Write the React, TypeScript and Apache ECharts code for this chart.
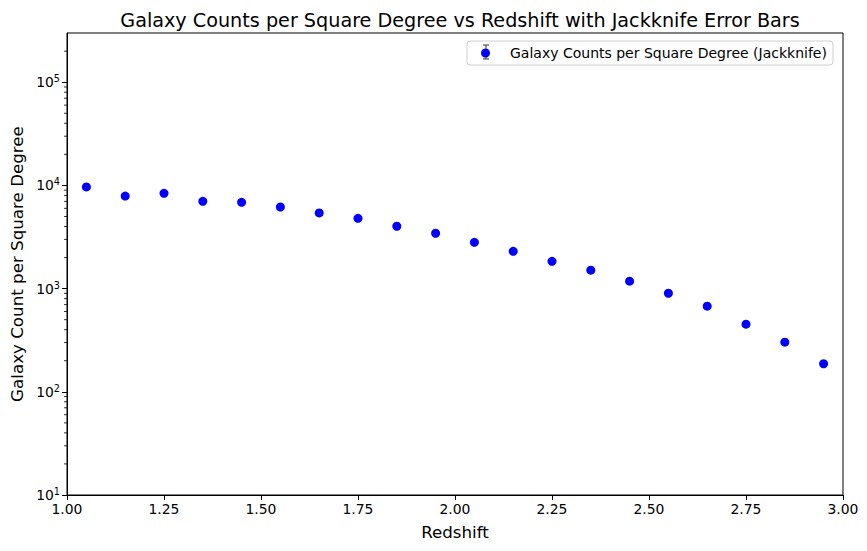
import * as echarts from "echarts";
import { useEffect, useRef } from "react";

// redshift bin centres and galaxy counts per square degree
const redshift = [1.05, 1.15, 1.25, 1.35, 1.45, 1.55, 1.65, 1.75, 1.85, 1.95, 2.05, 2.15, 2.25, 2.35, 2.45, 2.55, 2.65, 2.75, 2.85, 2.95];
const counts = [9660, 7890, 8380, 7020, 6860, 6180, 5410, 4800, 4020, 3440, 2810, 2300, 1840, 1510, 1180, 902, 676, 452, 303, 187];
const xTicks = [1.0, 1.25, 1.5, 1.75, 2.0, 2.25, 2.5, 2.75, 3.0];
const yMin = 10;
const yMax = 3e5;

// matplotlib-like minor ticks on the log axis (2..9 x 10^k)
const minorValues: number[] = [];
for (let d = 10; d < yMax; d *= 10) {
  for (let m = 2; m <= 9; m++) {
    const v = m * d;
    if (v < yMax) minorValues.push(v);
  }
}

const FONT = "DejaVu Sans";

const ScatterChart = ({ height, width }: { height: string; width: string }) => {
  const chartRef = useRef(null);

  useEffect(() => {
    if (chartRef.current) {
      const myChart = echarts.init(chartRef.current, null, { renderer: "svg" });

      const option = {
        animation: false,
        textStyle: { fontFamily: FONT },
        title: {
          text: "Galaxy Counts per Square Degree vs Redshift with Jackknife Error Bars",
          left: 455,
          top: 6,
          textAlign: "center",
          textStyle: { fontFamily: FONT, fontSize: 19.2, fontWeight: "normal", color: "#000" },
        },
        legend: {
          left: 467,
          top: 41,
          data: [{ name: "Galaxy Counts per Square Degree (Jackknife)", icon: "circle" }],
          itemWidth: 9,
          itemHeight: 9,
          padding: [5, 6, 5, 14],
          borderColor: "#d0d0d0",
          borderWidth: 1,
          borderRadius: 3,
          backgroundColor: "transparent",
          textStyle: { fontFamily: FONT, fontSize: 14, color: "#000", padding: [0, 0, 0, 15], lineHeight: 14 },
        },
        grid: {
          left: 67,
          right: 24,
          top: 33,
          bottom: 56,
          show: true,
          borderColor: "#000",
          borderWidth: 1,
          backgroundColor: "transparent",
        },
        xAxis: {
          type: "value",
          min: 1,
          max: 3,
          interval: 0.25,
          name: "Redshift",
          nameLocation: "middle",
          nameGap: 28,
          nameTextStyle: { fontFamily: FONT, fontSize: 16.7, color: "#000" },
          axisLine: { lineStyle: { color: "#000", width: 1 } },
          axisTick: { show: true, length: 5, lineStyle: { color: "#000" } },
          splitLine: { show: false },
          axisLabel: {
            fontFamily: FONT,
            fontSize: 13.9,
            color: "#000",
            margin: 7,
            formatter: (v: number) => (xTicks.some((t) => Math.abs(t - v) < 1e-9) ? v.toFixed(2) : ""),
          },
        },
        yAxis: {
          type: "log",
          logBase: 10,
          min: yMin,
          max: yMax,
          name: "Galaxy Count per Square Degree",
          nameLocation: "middle",
          nameGap: 42,
          nameTextStyle: { fontFamily: FONT, fontSize: 16.7, color: "#000" },
          axisLine: { show: true, lineStyle: { color: "#000", width: 1 } },
          axisTick: { show: true, length: 5, lineStyle: { color: "#000" } },
          splitLine: { show: false },
          axisLabel: {
            showMaxLabel: false,
            margin: 7,
            color: "#000",
            formatter: (v: number) => {
              const e = Math.round(Math.log10(v));
              if (Math.abs(Math.pow(10, e) - v) > 1e-6 * v) return "";
              return `{b|10}{s|${e}}`;
            },
            rich: {
              b: { fontFamily: FONT, fontSize: 13.9, color: "#000" },
              s: { fontFamily: FONT, fontSize: 9.7, color: "#000", verticalAlign: "top", padding: [0, 0, 7, 0] },
            },
          },
        },
        graphic: [
          // errorbar glyph behind the legend marker
          { type: "line", shape: { x1: 486, y1: 45, x2: 486, y2: 59 }, style: { stroke: "#555", lineWidth: 1.2 } },
          { type: "line", shape: { x1: 483, y1: 45, x2: 489, y2: 45 }, style: { stroke: "#555", lineWidth: 1.2 } },
          { type: "line", shape: { x1: 483, y1: 59, x2: 489, y2: 59 }, style: { stroke: "#555", lineWidth: 1.2 } },
        ],
        series: [
          {
            name: "Galaxy Counts per Square Degree (Jackknife)",
            type: "scatter",
            symbol: "circle",
            symbolSize: 9,
            itemStyle: { color: "#0000ff", opacity: 1 },
            data: redshift.map((z, i) => [z, counts[i]]),
          },
          {
            type: "custom",
            silent: true,
            clip: false,
            data: minorValues.map((v) => [1, v]),
            renderItem: (_params: any, api: any) => {
              const p = api.coord([1, api.value(1)]);
              return {
                type: "line",
                shape: { x1: p[0] - 3, y1: p[1], x2: p[0], y2: p[1] },
                style: { stroke: "#000", lineWidth: 0.8 },
              };
            },
          },
        ],
      };

      myChart.setOption(option);

      return () => {
        myChart.dispose();
      };
    }
  }, [height, width]);

  return <div ref={chartRef} style={{ width: width, height: height }} />;
};

export default function App() {
  return (
    <div style={{ margin: -8 }}>
      <ScatterChart width="867px" height="551px" />
    </div>
  );
}
